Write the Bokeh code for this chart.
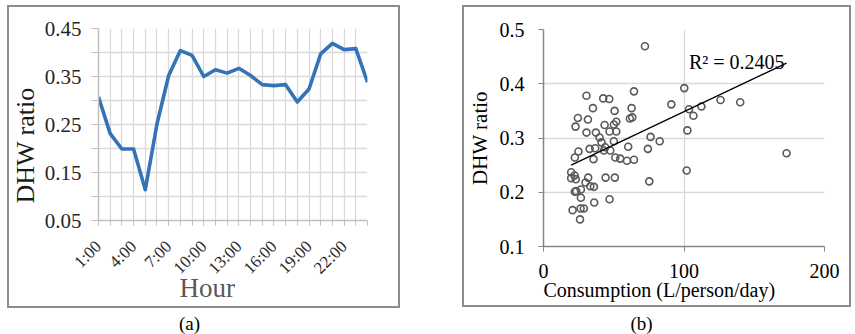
import math
from bokeh.plotting import figure
from bokeh.layouts import row, column
from bokeh.models import FixedTicker, Label, Title, ColumnDataSource, Spacer
from bokeh.embed import file_html
from bokeh.resources import INLINE

# ---------------- data: panel (a) ----------------
hours = list(range(1, 25))
hour_labels = ["%d:00" % h for h in hours]
labeled_hours = [1, 4, 7, 10, 13, 16, 19, 22]
hourly_ratio = [0.307, 0.231, 0.199, 0.199, 0.114, 0.251, 0.352, 0.404,
                0.394, 0.350, 0.364, 0.357, 0.367, 0.352, 0.333, 0.331,
                0.333, 0.297, 0.324, 0.397, 0.419, 0.406, 0.408, 0.338]
a_major = [0.05, 0.15, 0.25, 0.35, 0.45]
a_minor = [0.10, 0.20, 0.30, 0.40]

# ---------------- data: panel (b) ----------------
consumption = [72.2, 100.2, 64.4, 30.6, 42.5, 46.8, 91.0, 35.2, 62.7, 50.6,
               126.0, 140.0, 103.6, 112.4, 106.7, 24.5, 31.6, 61.5, 63.2, 51.8,
               22.8, 43.5, 50.1, 30.6, 37.3, 47.0, 51.8, 102.4, 39.9, 76.2,
               41.3, 50.1, 82.7, 32.8, 36.8, 43.9, 60.3, 74.3, 43.0, 47.5,
               24.9, 22.3, 35.6, 51.1, 54.6, 59.4, 64.4, 173.0, 19.7, 22.1,
               23.0, 19.7, 31.8, 44.2, 50.8, 101.9, 29.9, 75.3, 33.3, 35.9,
               22.3, 23.3, 26.6, 26.6, 47.0, 36.1, 20.7, 26.4, 28.7, 26.0]
ratio = [0.469, 0.392, 0.386, 0.378, 0.373, 0.372, 0.362, 0.355, 0.355, 0.350,
         0.370, 0.366, 0.353, 0.358, 0.341, 0.337, 0.334, 0.336, 0.338, 0.330,
         0.321, 0.324, 0.325, 0.310, 0.310, 0.312, 0.312, 0.314, 0.301, 0.302,
         0.292, 0.294, 0.294, 0.280, 0.281, 0.283, 0.284, 0.280, 0.277, 0.277,
         0.275, 0.264, 0.261, 0.264, 0.262, 0.258, 0.260, 0.272, 0.237, 0.231,
         0.224, 0.226, 0.227, 0.227, 0.227, 0.240, 0.218, 0.220, 0.211, 0.210,
         0.201, 0.202, 0.205, 0.190, 0.187, 0.181, 0.167, 0.170, 0.170, 0.150]
trend_x = [19.7, 173.0]
trend_y = [0.250, 0.438]
r2_text = "R\u00b2 = 0.2405"
b_yticks = [0.1, 0.2, 0.3, 0.4, 0.5]
b_xticks = [0, 100, 200]
captions_text = ["(a)", "(b)"]

SERIF = "Liberation Serif"
BOX = {"outline": "2px solid #8C8C8C", "outline-offset": "-2px"}

# ---------------- panel (a) ----------------
p1 = figure(width=393, height=303, output_backend="svg", toolbar_location=None,
            x_range=(1, 24), y_range=(0.05, 0.45),
            min_border_left=91, min_border_right=33, min_border_top=23, min_border_bottom=88)
p1.outline_line_color = None
p1.border_fill_color = None
p1.styles = BOX
p1.line(hours, hourly_ratio, line_color="#3473B5", line_width=3.6, line_join="round")

p1.xaxis.ticker = FixedTicker(ticks=labeled_hours, minor_ticks=hours)
p1.xaxis.major_label_overrides = {h: hour_labels[h - 1] for h in labeled_hours}
p1.xaxis.major_label_orientation = math.pi / 4
p1.yaxis.ticker = FixedTicker(ticks=a_major, minor_ticks=a_minor)
for ax in (p1.xaxis, p1.yaxis):
    ax.axis_line_color = "#BFBFBF"
    ax.axis_line_width = 1.5
    ax.major_tick_line_color = "#BFBFBF"
    ax.minor_tick_line_color = "#BFBFBF"
    ax.major_tick_in = 0
    ax.minor_tick_in = 0
    ax.major_label_text_font = SERIF
    ax.major_label_text_color = "#262626"
p1.yaxis.major_tick_out = 7
p1.yaxis.minor_tick_out = 7
p1.xaxis.major_tick_out = 5
p1.xaxis.minor_tick_out = 5
p1.yaxis.major_label_text_font_size = "21px"
p1.yaxis.major_label_standoff = 10
p1.xaxis.major_label_text_font_size = "17px"
p1.xaxis.major_label_standoff = 18
p1.xgrid.ticker = FixedTicker(ticks=hours)
p1.ygrid.ticker = FixedTicker(ticks=sorted(a_major + a_minor))
p1.xgrid.grid_line_color = "#D9D9D9"
p1.ygrid.grid_line_color = "#D9D9D9"
p1.xgrid.grid_line_width = 1.3
p1.ygrid.grid_line_width = 1.3

p1.add_layout(Title(text="DHW ratio", align="left", offset=17, standoff=1,
                    vertical_align="middle",
                    text_font=SERIF, text_font_size="26px", text_font_style="normal",
                    text_color="#1a1a1a"), "left")
p1.add_layout(Title(text="Hour", align="left", offset=81, standoff=-34,
                    vertical_align="middle",
                    text_font=SERIF, text_font_size="27px", text_font_style="normal",
                    text_color="#595959"), "below")

# ---------------- panel (b) ----------------
p2 = figure(width=389, height=302, output_backend="svg", toolbar_location=None,
            x_range=(0, 200), y_range=(0.1, 0.5),
            min_border_left=81, min_border_right=27, min_border_top=24, min_border_bottom=61)
p2.outline_line_color = None
p2.border_fill_color = None
p2.styles = BOX
src = ColumnDataSource(dict(x=consumption, y=ratio))
p2.scatter("x", "y", source=src, size=7, fill_color=None, line_color="#595959", line_width=1.6)
p2.line(trend_x, trend_y, line_color="#000000", line_width=1.4)
p2.xaxis.ticker = FixedTicker(ticks=b_xticks)
p2.yaxis.ticker = FixedTicker(ticks=b_yticks)
p2.yaxis.major_label_overrides = {t: "%.1f" % t for t in b_yticks}
for ax in (p2.xaxis, p2.yaxis):
    ax.axis_line_color = "#868686"
    ax.axis_line_width = 1.5
    ax.major_tick_line_color = "#868686"
    ax.major_tick_in = 0
    ax.major_tick_out = 5
    ax.minor_tick_line_color = None
    ax.major_label_text_font = SERIF
    ax.major_label_text_font_size = "20px"
    ax.major_label_text_color = "#000000"
p2.yaxis.major_label_standoff = 14
p2.xaxis.major_label_standoff = 12
p2.yaxis.axis_label = "DHW ratio"
p2.yaxis.axis_label_text_font = SERIF
p2.yaxis.axis_label_text_font_size = "21px"
p2.yaxis.axis_label_text_font_style = "normal"
p2.yaxis.axis_label_text_color = "#000000"
p2.yaxis.axis_label_standoff = 5
p2.xgrid.grid_line_color = "#D9D9D9"
p2.ygrid.grid_line_color = "#D9D9D9"
p2.xgrid.grid_line_width = 1.3
p2.ygrid.grid_line_width = 1.3

p2.add_layout(Label(x=103.5, y=0.441, text=r2_text, text_align="left",
                    text_baseline="alphabetic", text_font=SERIF,
                    text_font_size="20px", text_color="#000000"))
p2.add_layout(Title(text="Consumption  (L/person/day)", align="left", offset=0, standoff=-5,
                    vertical_align="middle",
                    text_font=SERIF, text_font_size="20px", text_font_style="normal",
                    text_color="#000000"), "below")

# ---------------- captions (tiny axis-less figures) ----------------
def caption(txt):
    c = figure(width=60, height=24, output_backend="svg", toolbar_location=None,
               x_range=(0, 1), y_range=(0, 1), x_axis_type=None, y_axis_type=None,
               min_border=0)
    c.outline_line_color = None
    c.border_fill_color = None
    c.background_fill_color = None
    c.grid.visible = False
    c.add_layout(Label(x=0.5, y=0.5, text=txt, text_align="center", text_baseline="middle",
                       text_font=SERIF, text_font_size="19px", text_color="#000000"))
    return c

left = column(Spacer(width=400, height=5),
              row(Spacer(width=7, height=303), p1),
              Spacer(width=400, height=3),
              row(Spacer(width=159, height=24), caption(captions_text[0])))
right = column(Spacer(width=451, height=5),
               row(Spacer(width=62, height=302), p2),
               Spacer(width=451, height=4),
               row(Spacer(width=211, height=24), caption(captions_text[1])))
page = row(left, right)

open("out.html", "w").write(file_html(page, INLINE))
